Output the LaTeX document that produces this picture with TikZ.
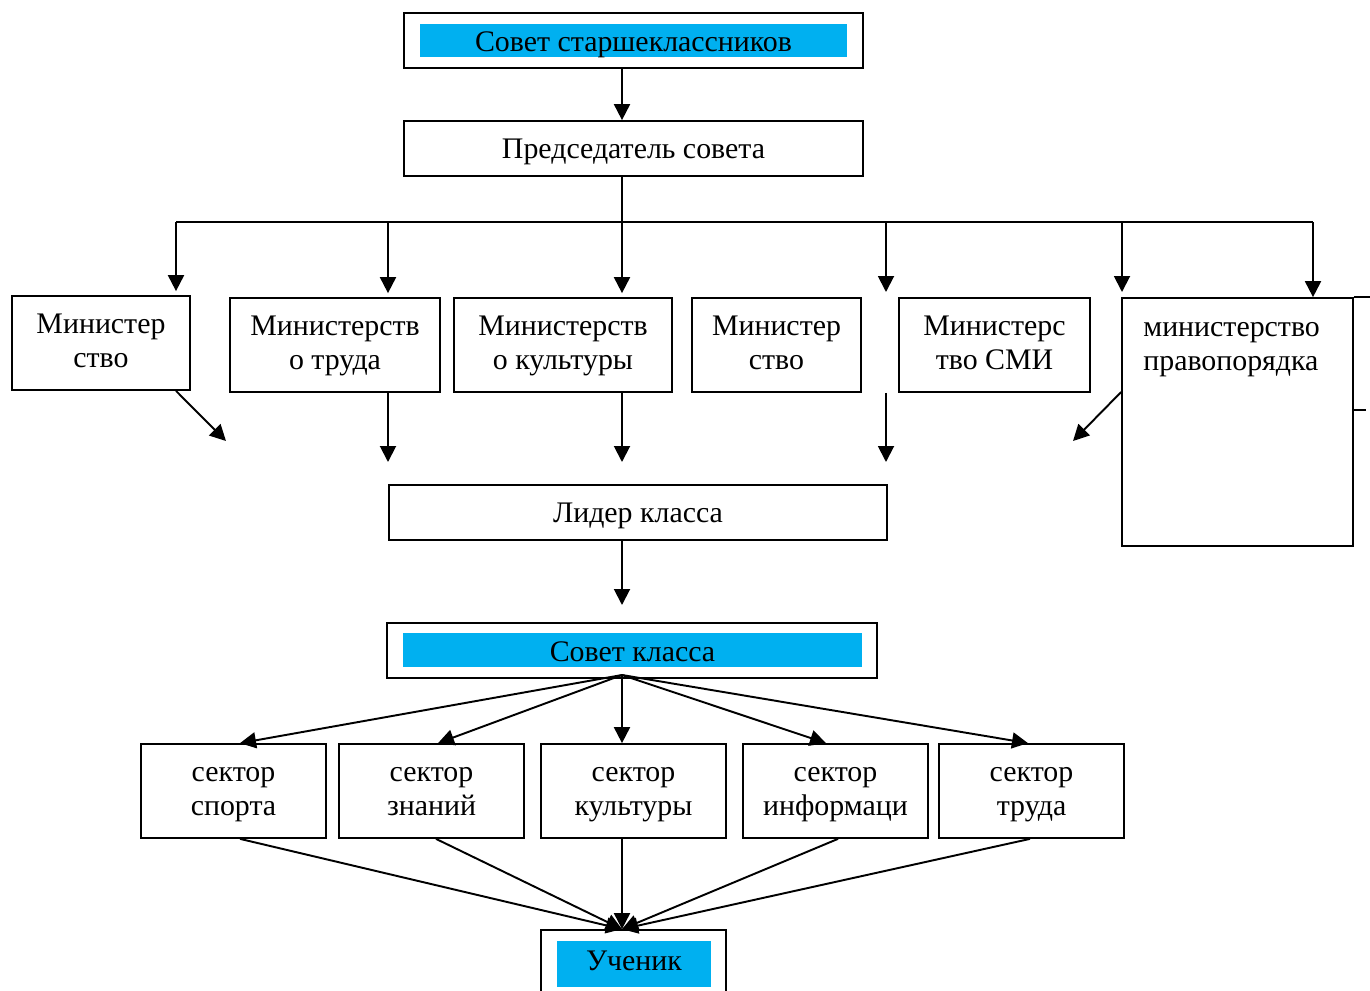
\documentclass[tikz,border=0pt]{standalone}
\usepackage{fontspec}
\setmainfont{Liberation Serif}
\usetikzlibrary{arrows.meta}
\newcommand\boxfont{\fontsize{17}{19.5}\selectfont}
\newcommand\topstrut{\rule{0pt}{17pt}}
\tikzset{
  box/.style={draw, line width=1pt, inner sep=0pt, align=center, font=\boxfont},
  onebox/.style={box, execute at begin node=\topstrut, execute at end node=\strut},
  hilite/.style={fill=skyblue, inner sep=0pt, font=\boxfont, text height=15pt, text depth=2pt},
  minbox/.style={box, minimum height=1.88cm, text height=33pt, text depth=5pt},
  secbox/.style={minbox, minimum width=3.7cm},
  arr/.style={-{Triangle[length=0.32cm,width=0.32cm]}, line width=1.1pt},
  ln/.style={line width=1.1pt}
}
\definecolor{skyblue}{HTML}{00B0F0}
\begin{document}
\begin{tikzpicture}[x=0.02cm,y=-0.02cm]
\useasboundingbox (0,0) rectangle (1370,991);
% top part
\node[box, minimum width=9.18cm, minimum height=1.1cm] (sovetS) at (633.5,40.5) {};
\node[hilite, minimum width=8.54cm, minimum height=0.66cm] (sovetSt) at (633.5,40.5) {Совет старшеклассников};
\node[onebox, minimum width=9.18cm, minimum height=1.1cm] (predsed) at (633.5,148.5) {Председатель совета};
% ministries
\node[minbox, minimum width=3.56cm] (min1) at (101,343) {Министер\\ство};
\node[minbox, minimum width=4.2cm] (min2) at (335,345) {Министерств\\о труда};
\node[minbox, minimum width=4.36cm] (min3) at (563,345) {Министерств\\о культуры};
\node[minbox, minimum width=3.38cm] (min4) at (776.5,345) {Министер\\ство};
\node[minbox, minimum width=3.82cm] (min5) at (994.5,345) {Министерс\\тво СМИ};
\node[box, minimum width=4.62cm, minimum height=4.96cm] (pravo) at (1237.5,422) {};
\node[anchor=north west, align=left, inner sep=0pt, font=\boxfont] (pravoT) at (1143,322) {министерство\\правопорядка};
\draw[line width=1pt] (pravo.north east) -- ++(17,0);
\draw[line width=1pt] (pravo.east |- 0,410) -- ++(12,0);
% bus
\coordinate (busL) at (176,222);
\coordinate (busR) at (1313,222);
\coordinate (mid) at (622,222);
\draw[ln] (busL) -- (busR);
\draw[ln] (predsed.south -| mid) -- (mid);
\draw[arr] (sovetS.south -| mid) -- (predsed.north -| mid);
\draw[arr] (busL) -- ([yshift=0.08cm]min1.north -| busL);
\draw[arr] (busL -| 388,0) -- ([yshift=0.08cm]min2.north -| 388,0);
\draw[arr] (mid) -- ([yshift=0.08cm]min3.north -| mid);
\coordinate (gap1) at (886,292);
\coordinate (gap2) at (1122,292);
\draw[arr] (busL -| gap1) -- (gap1);
\draw[arr] (busL -| gap2) -- (gap2);
\draw[arr] (busR) -- (pravo.north -| busR);
% class leader
\node[onebox, minimum width=9.96cm, minimum height=1.1cm] (lider) at (638,512.5) {Лидер класса};
\coordinate (e1) at (226,441);
\coordinate (e2) at (388,462);
\coordinate (e3) at (622,462);
\coordinate (e4) at (886,462);
\coordinate (e5) at (1073,441);
\draw[arr] (min1.south -| busL) -- (e1);
\draw[arr] (min2.south -| e2) -- (e2);
\draw[arr] (min3.south -| e3) -- (e3);
\draw[arr] (min4.south -| e4) -- (e4);
\draw[arr] (pravo.west |- 0,392) -- (e5);
\coordinate (e6) at (622,605);
\draw[arr] (lider.south -| e6) -- (e6);
% class council
\node[box, minimum width=9.8cm, minimum height=1.1cm] (sovetK) at (632,650.5) {};
\node[hilite, minimum width=9.18cm, minimum height=0.68cm] (sovetKt) at (632.5,650) {Совет класса};
\node[secbox] (sec1) at (233.5,791) {сектор\\спорта};
\node[secbox] (sec2) at (431.5,791) {сектор\\знаний};
\node[secbox] (sec3) at (633.5,791) {сектор\\культуры};
\node[secbox] (sec4) at (835.5,791) {сектор\\информаци};
\node[secbox] (sec5) at (1031.5,791) {сектор\\труда};
\coordinate (fan) at (622,675);
\draw[arr] (fan) -- (sec1.north -| 240,0);
\draw[arr] (fan) -- (sec2.north -| 438,0);
\draw[arr] (fan) -- (sec3.north -| fan);
\draw[arr] (fan) -- (sec4.north -| 826,0);
\draw[arr] (fan) -- (sec5.north -| 1028,0);
% pupil
\node[box, minimum width=3.7cm, minimum height=1.6cm] (uchenik) at (633.5,970) {};
\node[hilite, minimum width=3.08cm, minimum height=0.92cm, text height=12pt, text depth=4.4pt] (uchenikT) at (634,964) {Ученик};
\coordinate (sink) at (uchenik.north -| fan);
\draw[arr] (sec1.south -| 240,0) -- (sink);
\draw[arr] (sec2.south -| 436,0) -- (sink);
\draw[arr] (sec3.south -| sink) -- (sink);
\draw[arr] (sec4.south -| 838,0) -- (sink);
\draw[arr] (sec5.south -| 1030,0) -- (sink);
\end{tikzpicture}
\end{document}
